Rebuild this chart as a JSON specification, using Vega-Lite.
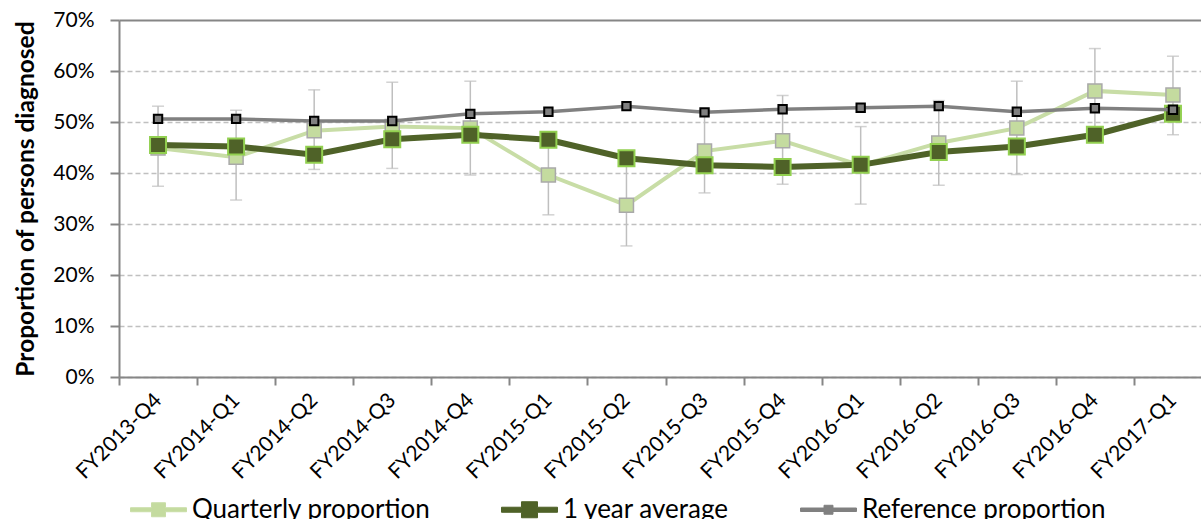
{
  "$schema": "https://vega.github.io/schema/vega-lite/v6.json",
  "autosize": {"type": "none"},
  "padding": {"left": 119, "top": 20, "right": 0, "bottom": 142},
  "width": 1082,
  "height": 357,
  "background": "white",
  "config": {"font": "Lato", "view": {"stroke": null}},
  "data": {"values": [
    {"q": "FY2013-Q4", "series": "Quarterly proportion", "v": 0.449, "lo": 0.374, "hi": 0.531},
    {"q": "FY2014-Q1", "series": "Quarterly proportion", "v": 0.431, "lo": 0.347, "hi": 0.523},
    {"q": "FY2014-Q2", "series": "Quarterly proportion", "v": 0.483, "lo": 0.407, "hi": 0.563},
    {"q": "FY2014-Q3", "series": "Quarterly proportion", "v": 0.491, "lo": 0.409, "hi": 0.578},
    {"q": "FY2014-Q4", "series": "Quarterly proportion", "v": 0.488, "lo": 0.396, "hi": 0.580},
    {"q": "FY2015-Q1", "series": "Quarterly proportion", "v": 0.396, "lo": 0.318, "hi": 0.474},
    {"q": "FY2015-Q2", "series": "Quarterly proportion", "v": 0.337, "lo": 0.257, "hi": 0.417},
    {"q": "FY2015-Q3", "series": "Quarterly proportion", "v": 0.443, "lo": 0.361, "hi": 0.523},
    {"q": "FY2015-Q4", "series": "Quarterly proportion", "v": 0.463, "lo": 0.378, "hi": 0.552},
    {"q": "FY2016-Q1", "series": "Quarterly proportion", "v": 0.415, "lo": 0.339, "hi": 0.491},
    {"q": "FY2016-Q2", "series": "Quarterly proportion", "v": 0.459, "lo": 0.376, "hi": 0.542},
    {"q": "FY2016-Q3", "series": "Quarterly proportion", "v": 0.488, "lo": 0.397, "hi": 0.580},
    {"q": "FY2016-Q4", "series": "Quarterly proportion", "v": 0.561, "lo": 0.478, "hi": 0.644},
    {"q": "FY2017-Q1", "series": "Quarterly proportion", "v": 0.553, "lo": 0.475, "hi": 0.629},
    {"q": "FY2013-Q4", "series": "1 year average", "v": 0.455},
    {"q": "FY2014-Q1", "series": "1 year average", "v": 0.452},
    {"q": "FY2014-Q2", "series": "1 year average", "v": 0.436},
    {"q": "FY2014-Q3", "series": "1 year average", "v": 0.466},
    {"q": "FY2014-Q4", "series": "1 year average", "v": 0.475},
    {"q": "FY2015-Q1", "series": "1 year average", "v": 0.465},
    {"q": "FY2015-Q2", "series": "1 year average", "v": 0.429},
    {"q": "FY2015-Q3", "series": "1 year average", "v": 0.415},
    {"q": "FY2015-Q4", "series": "1 year average", "v": 0.412},
    {"q": "FY2016-Q1", "series": "1 year average", "v": 0.416},
    {"q": "FY2016-Q2", "series": "1 year average", "v": 0.441},
    {"q": "FY2016-Q3", "series": "1 year average", "v": 0.452},
    {"q": "FY2016-Q4", "series": "1 year average", "v": 0.475},
    {"q": "FY2017-Q1", "series": "1 year average", "v": 0.516},
    {"q": "FY2013-Q4", "series": "Reference proportion", "v": 0.506},
    {"q": "FY2014-Q1", "series": "Reference proportion", "v": 0.506},
    {"q": "FY2014-Q2", "series": "Reference proportion", "v": 0.502},
    {"q": "FY2014-Q3", "series": "Reference proportion", "v": 0.502},
    {"q": "FY2014-Q4", "series": "Reference proportion", "v": 0.516},
    {"q": "FY2015-Q1", "series": "Reference proportion", "v": 0.520},
    {"q": "FY2015-Q2", "series": "Reference proportion", "v": 0.531},
    {"q": "FY2015-Q3", "series": "Reference proportion", "v": 0.519},
    {"q": "FY2015-Q4", "series": "Reference proportion", "v": 0.525},
    {"q": "FY2016-Q1", "series": "Reference proportion", "v": 0.528},
    {"q": "FY2016-Q2", "series": "Reference proportion", "v": 0.531},
    {"q": "FY2016-Q3", "series": "Reference proportion", "v": 0.520},
    {"q": "FY2016-Q4", "series": "Reference proportion", "v": 0.527},
    {"q": "FY2017-Q1", "series": "Reference proportion", "v": 0.524}
  ]},
  "encoding": {
    "x": {
      "field": "q", "type": "nominal", "sort": null,
      "scale": {"type": "band", "range": [0, 1093], "paddingInner": 0, "paddingOuter": 0},
      "axis": {
        "title": null, "labelAngle": -45, "labelAlign": "right", "labelBaseline": "middle",
        "labelFontSize": 21, "labelColor": "#000000", "labelPadding": 12,
        "tickBand": "extent", "tickSize": 8, "tickColor": "#868686", "tickWidth": 2,
        "domainColor": "#868686", "domainWidth": 2, "grid": false
      }
    },
    "y": {
      "type": "quantitative",
      "scale": {"domain": [0, 0.7], "nice": false, "zero": true},
      "axis": {
        "title": "Proportion of persons diagnosed", "titleFontSize": 24.5, "titleFontWeight": "bold",
        "titleColor": "#000000", "titlePadding": 14,
        "values": [0, 0.1, 0.2, 0.3, 0.4, 0.5, 0.6, 0.7], "format": ".0%",
        "labelFontSize": 21, "labelColor": "#000000", "labelPadding": 16,
        "tickSize": 9, "tickColor": "#868686", "tickWidth": 2,
        "domainColor": "#868686", "domainWidth": 2,
        "grid": true,
        "gridColor": {"condition": {"test": "datum.value >= 0.69", "value": "#868686"}, "value": "#c0c0c0"},
        "gridDash": {"condition": {"test": "datum.value >= 0.69", "value": []}, "value": [5, 3]},
        "gridWidth": {"condition": {"test": "datum.value >= 0.69", "value": 2}, "value": 1.5}
      }
    }
  },
  "layer": [
    {
      "transform": [{"filter": "datum.series === 'Quarterly proportion'"}],
      "mark": {"type": "rule", "color": "#bfbfbf", "strokeWidth": 1.5},
      "encoding": {"y": {"field": "lo", "type": "quantitative"}, "y2": {"field": "hi"}}
    },
    {
      "transform": [{"filter": "datum.series === 'Quarterly proportion'"}],
      "mark": {"type": "tick", "color": "#bfbfbf", "size": 12, "thickness": 1.5, "orient": "horizontal"},
      "encoding": {"y": {"field": "lo", "type": "quantitative"}}
    },
    {
      "transform": [{"filter": "datum.series === 'Quarterly proportion'"}],
      "mark": {"type": "tick", "color": "#bfbfbf", "size": 12, "thickness": 1.5, "orient": "horizontal"},
      "encoding": {"y": {"field": "hi", "type": "quantitative"}}
    },
    {
      "transform": [{"filter": "datum.series === 'Quarterly proportion'"}],
      "mark": {"type": "line", "strokeWidth": 4},
      "encoding": {
        "y": {"field": "v", "type": "quantitative"},
        "color": {
          "field": "series", "type": "nominal",
          "scale": {"domain": ["Quarterly proportion", "1 year average", "Reference proportion"], "range": ["#c8dda6", "#4f6228", "#808080"]},
          "legend": {
            "title": null, "orient": "none", "legendX": 11, "legendY": 461,
            "direction": "horizontal", "labelFontSize": 26, "labelColor": "#000000",
            "labelOffset": 5, "columnPadding": 68, "symbolSize": 3136, "labelLimit": 400,
            "encode": {
              "symbols": {"update": {
                "shape": {"signal": "datum.value === 'Quarterly proportion' ? 'M-1,-0.071H-0.25V-0.25H0.25V-0.071H1V0.071H0.25V0.25H-0.25V0.071H-1Z' : datum.value === '1 year average' ? 'M-1,-0.09H-0.286V-0.286H0.286V-0.09H1V0.09H0.286V0.286H-0.286V0.09H-1Z' : 'M-1,-0.0625H-0.16V-0.16H0.16V-0.0625H1V0.0625H0.16V0.16H-0.16V0.0625H-1Z'"},
                "fill": {"signal": "datum.value === 'Quarterly proportion' ? '#c4db9f' : datum.value === '1 year average' ? '#4f6228' : '#808080'"},
                "stroke": {"signal": "datum.value === 'Quarterly proportion' ? '#b5c99a' : datum.value === '1 year average' ? '#5e7a2c' : '#555555'"},
                "strokeWidth": {"value": 1},
                "opacity": {"value": 1}
              }}
            }
          }
        }
      }
    },
    {
      "transform": [{"filter": "datum.series === 'Quarterly proportion'"}],
      "mark": {"type": "point", "shape": "square", "size": 196, "filled": true, "fill": "#c4db9f", "stroke": "#a9a9a9", "strokeWidth": 1.5, "opacity": 1},
      "encoding": {"y": {"field": "v", "type": "quantitative"}}
    },
    {
      "transform": [{"filter": "datum.series === '1 year average'"}],
      "mark": {"type": "line", "strokeWidth": 6},
      "encoding": {"y": {"field": "v", "type": "quantitative"}, "color": {"field": "series", "type": "nominal"}}
    },
    {
      "transform": [{"filter": "datum.series === '1 year average'"}],
      "mark": {"type": "point", "shape": "square", "size": 256, "filled": true, "fill": "#4f6228", "stroke": "#92d050", "strokeWidth": 2, "opacity": 1},
      "encoding": {"y": {"field": "v", "type": "quantitative"}}
    },
    {
      "transform": [{"filter": "datum.series === 'Reference proportion'"}],
      "mark": {"type": "line", "strokeWidth": 3.5},
      "encoding": {"y": {"field": "v", "type": "quantitative"}, "color": {"field": "series", "type": "nominal"}}
    },
    {
      "transform": [{"filter": "datum.series === 'Reference proportion'"}],
      "mark": {"type": "point", "shape": "square", "size": 70, "filled": true, "fill": "#808080", "stroke": "#000000", "strokeWidth": 2, "opacity": 1},
      "encoding": {"y": {"field": "v", "type": "quantitative"}}
    }
  ]
}
